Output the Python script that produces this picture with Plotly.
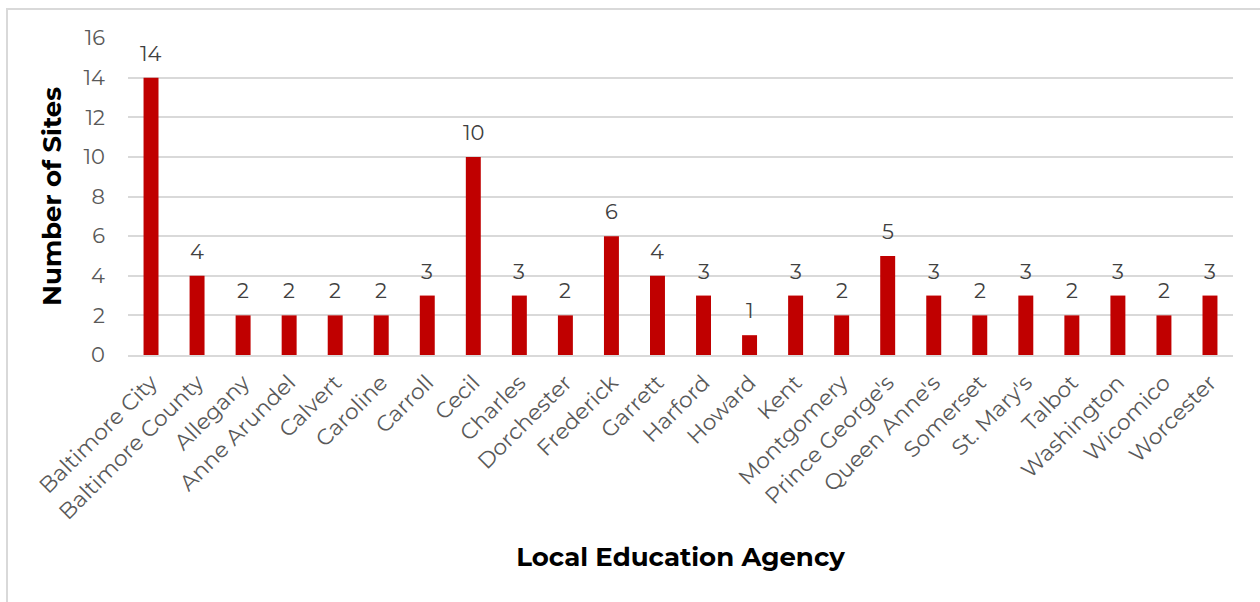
import plotly.graph_objects as go

agencies = ["Baltimore City", "Baltimore County", "Allegany", "Anne Arundel", "Calvert",
            "Caroline", "Carroll", "Cecil", "Charles", "Dorchester", "Frederick", "Garrett",
            "Harford", "Howard", "Kent", "Montgomery", "Prince George's", "Queen Anne's",
            "Somerset", "St. Mary's", "Talbot", "Washington", "Wicomico", "Worcester"]
sites = [14, 4, 2, 2, 2, 2, 3, 10, 3, 2, 6, 4, 3, 1, 3, 2, 5, 3, 2, 3, 2, 3, 2, 3]
y_ticks = [0, 2, 4, 6, 8, 10, 12, 14, 16]

FONT = "Montserrat, Open Sans, sans-serif"
BAR = "#C00000"
GRID = "#D9D9D9"

fig = go.Figure(go.Bar(x=agencies, y=sites, marker=dict(color=BAR, line=dict(width=0)),
                       hoverinfo="skip"))

# value labels above each bar
for a, v in zip(agencies, sites):
    fig.add_annotation(x=a, y=v, text=str(v), showarrow=False, yanchor="bottom",
                       yshift=10, font=dict(family=FONT, size=21, color="#404040"))

fig.update_layout(
    width=1260, height=602,
    margin=dict(l=128, r=27, t=38, b=247),
    paper_bgcolor="white", plot_bgcolor="white",
    bargap=0.675, showlegend=False,
    font=dict(family=FONT),
    xaxis=dict(tickangle=-45, tickfont=dict(family=FONT, size=22, color="#595959"),
               showline=True, linecolor=GRID, linewidth=2, ticks="",
               ticklabelstandoff=4,
               title=dict(text="<b>Local Education Agency</b>",
                          font=dict(family=FONT, size=26, color="black"), standoff=24)),
    yaxis=dict(range=[0, 16], tickvals=y_ticks, showgrid=True, gridcolor=GRID, gridwidth=2,
               zeroline=False, tickfont=dict(family=FONT, size=21, color="#595959"),
               ticks="", ticklabelstandoff=22,
               title=dict(text="<b>Number of Sites</b>",
                          font=dict(family=FONT, size=26, color="black"), standoff=14)),
    shapes=[dict(type="rect", xref="paper", yref="paper", x0=-0.1095, x1=1.03,
                 y0=-0.95, y1=1.0915, line=dict(color=GRID, width=2), layer="below")],
)

fig.write_html("out.html")
